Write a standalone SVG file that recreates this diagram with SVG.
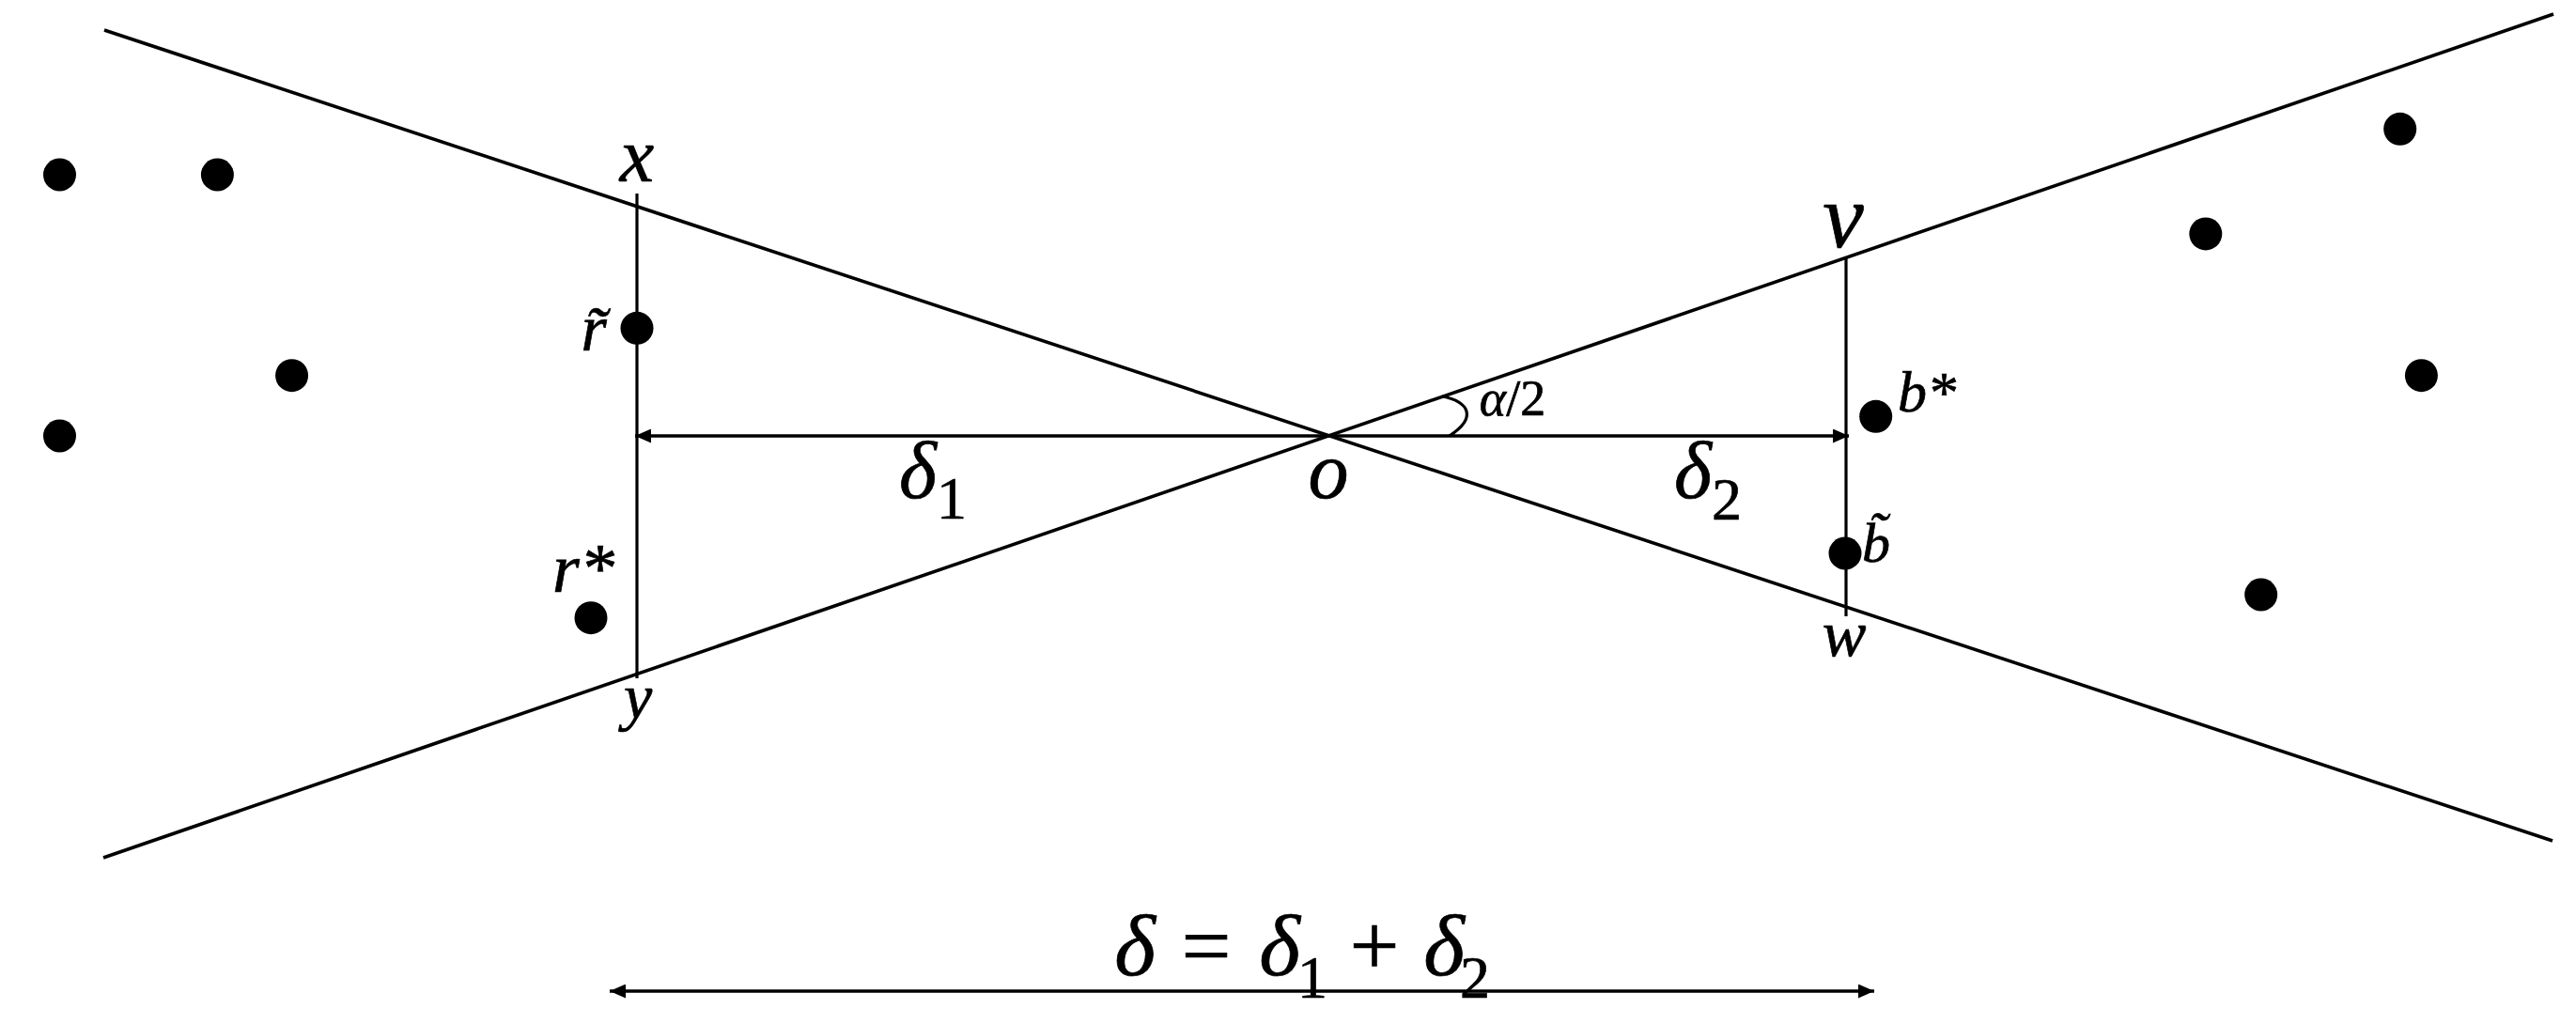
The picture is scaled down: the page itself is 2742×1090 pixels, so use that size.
<svg xmlns="http://www.w3.org/2000/svg" width="2742" height="1090" viewBox="0 0 2742 1090">
<style>
.ln{stroke:#000;stroke-width:3.6;fill:none}
.vl{stroke:#000;stroke-width:3.2;fill:none}
.ar{stroke:#000;stroke-width:3.4;fill:none}
.dot{fill:#000}
.t{font-family:"Liberation Serif","Times New Roman",serif;font-style:italic;fill:#000;stroke:#000;stroke-width:0.7;text-anchor:middle}
.u{font-style:normal}
</style>
<defs>
<marker id="ah" viewBox="0 -7.5 17 15" refX="17" refY="0" markerWidth="17" markerHeight="15" markerUnits="userSpaceOnUse" orient="auto-start-reverse">
<path d="M0,-7.5 L17,0 L0,7.5 z" fill="#000"/>
</marker>
</defs>
<rect width="2742" height="1090" fill="#fff"/>
<g id="connectors">
<line class="ln" x1="111" y1="32" x2="2717" y2="895"/>
<line class="ln" x1="110" y1="913" x2="2718" y2="15"/>
<line class="vl" x1="678" y1="206" x2="678" y2="722"/>
<line class="vl" x1="1965" y1="273" x2="1965" y2="656"/>
<line class="ar" x1="676" y1="464" x2="1968" y2="464" marker-start="url(#ah)" marker-end="url(#ah)"/>
<line class="ar" x1="649" y1="1055" x2="1995" y2="1055" marker-start="url(#ah)" marker-end="url(#ah)"/>
<path class="vl" stroke-width="2.8" d="M1535,421.7 C1565,428 1572,445 1542.7,464"/>
</g>
<g id="label-x"><text class="t" x="678" y="193" font-size="82">x</text></g>
<g id="label-y"><text class="t" x="679" y="765" font-size="68">y</text></g>
<g id="label-v"><text class="t" x="1962" y="263" font-size="98">v</text></g>
<g id="label-w"><text class="t" x="1963" y="698" font-size="70">w</text></g>
<g id="label-o"><text class="t" x="1414" y="530" font-size="86" stroke-width="1.6">o</text></g>
<g id="label-alpha"><text class="t" x="1610" y="442" font-size="54">α<tspan class="u">/2</tspan></text></g>
<g id="label-delta1"><text class="t" x="993" y="530" font-size="86">δ<tspan class="u" font-size="64" dy="22">1</tspan></text></g>
<g id="label-delta2"><text class="t" x="1818" y="530" font-size="86">δ<tspan class="u" font-size="64" dy="23">2</tspan></text></g>
<g id="label-delta"><text class="t" font-size="94"><tspan x="1208" y="1038">δ</tspan><tspan class="u" x="1284" y="1038">=</tspan><tspan x="1362" y="1038">δ</tspan><tspan class="u" font-size="64" x="1397" y="1062">1</tspan><tspan class="u" x="1463" y="1038">+</tspan><tspan x="1537" y="1038">δ</tspan><tspan class="u" font-size="64" x="1570" y="1062">2</tspan></text></g>
<g id="left-dots">
<circle class="dot" cx="63.5" cy="186" r="17.5"/>
<circle class="dot" cx="231.4" cy="186" r="17.5"/>
<circle class="dot" cx="310.6" cy="399.7" r="17.5"/>
<circle class="dot" cx="63.5" cy="464" r="17.5"/>
</g>
<g id="node-r-tilde">
<circle class="dot" cx="678" cy="349.3" r="17.5"/>
<text class="t" x="632" y="373" font-size="70">r̃</text>
</g>
<g id="node-r-star">
<circle class="dot" cx="629" cy="657.7" r="17.5"/>
<text class="t" x="621" y="630" font-size="74">r*</text>
</g>
<g id="right-dots">
<circle class="dot" cx="2554.7" cy="137.3" r="17.5"/>
<circle class="dot" cx="2347.8" cy="248.9" r="17.5"/>
<circle class="dot" cx="2577.4" cy="399.7" r="17.5"/>
<circle class="dot" cx="2406.7" cy="633" r="17.5"/>
</g>
<g id="node-b-star">
<circle class="dot" cx="1996.7" cy="443.3" r="17.5"/>
<text class="t" x="2051" y="438" font-size="62">b*</text>
</g>
<g id="node-b-tilde">
<circle class="dot" cx="1964" cy="589" r="17.5"/>
<text class="t" x="1997" y="598" font-size="60">b̃</text>
</g>
</svg>
